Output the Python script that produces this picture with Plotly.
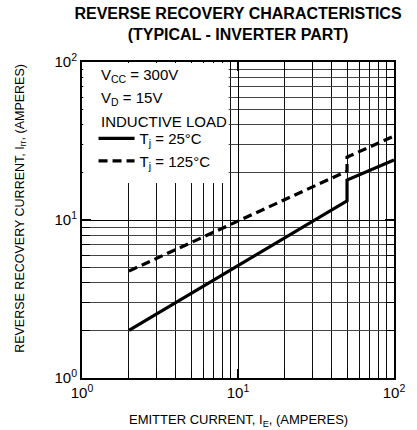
import plotly.graph_objects as go

# Data
x_25 = [2, 50, 50, 100]
y_25 = [2.0, 13.2, 17.9, 24.0]
x_125 = [2, 50, 50, 100]
y_125 = [4.75, 20.4, 25.0, 34.0]

tick_vals = [1, 10, 100]
tick_text = ["10<sup>0</sup>", "10<sup>1</sup>", "10<sup>2</sup>"]
minor_vals = [2, 3, 4, 5, 6, 7, 8, 9, 20, 30, 40, 50, 60, 70, 80, 90]

info_lines = ["V<sub>CC</sub> = 300V", "V<sub>D</sub> = 15V", "INDUCTIVE LOAD"]
info_y = [0.956, 0.886, 0.813]

FONT = "Liberation Sans, Arial, sans-serif"
W, H = 417, 430
L, R, T, B = 82, 14, 62, 52

fig = go.Figure()
fig.add_trace(go.Scatter(x=x_25, y=y_25, mode="lines", name="T<sub>j</sub> = 25°C",
                         line=dict(color="black", width=3.2)))
fig.add_trace(go.Scatter(x=x_125, y=y_125, mode="lines", name="T<sub>j</sub> = 125°C",
                         line=dict(color="black", width=3.2, dash="9px,5px")))

axis_common = dict(
    type="log", showline=True, linecolor="black", linewidth=2, mirror="allticks",
    ticks="inside", ticklen=9, tickwidth=2, tickcolor="black",
    tickmode="array", tickvals=tick_vals, ticktext=tick_text,
    showgrid=True, gridcolor="black", gridwidth=1.3, zeroline=False,
    tickfont=dict(family=FONT, size=15, color="black"),
)

fig.update_xaxes(**axis_common, range=[0, 2],
                 minor=dict(tickvals=minor_vals, showgrid=True, gridcolor="#111111", gridwidth=1,
                            ticks="inside", ticklen=8, tickcolor="black", tickwidth=1))
fig.update_yaxes(**axis_common, range=[0, 2],
                 minor=dict(tickvals=minor_vals, showgrid=True, gridcolor="#444444", gridwidth=1.2,
                            ticks="inside", ticklen=8, tickcolor="black", tickwidth=1))

# white box behind the legend text
fig.add_shape(type="rect", xref="paper", yref="paper", x0=0.004, x1=0.47, y0=0.617, y1=0.997,
              fillcolor="white", line=dict(width=0), layer="above")

for txt, yy in zip(info_lines, info_y):
    fig.add_annotation(text=txt, xref="paper", yref="paper", x=0.053, y=yy, xanchor="left",
                       yanchor="middle", showarrow=False, font=dict(family=FONT, size=15, color="black"))

fig.add_annotation(text="EMITTER CURRENT, I<sub>E</sub>, (AMPERES)", xref="paper", yref="paper",
                   x=0.5, y=-0.133, xanchor="center", yanchor="middle", showarrow=False,
                   font=dict(family=FONT, size=13, color="black"))
fig.add_annotation(text="REVERSE RECOVERY CURRENT, I<sub>rr</sub>, (AMPERES)", xref="paper", yref="paper",
                   x=-0.196, y=0.538, xanchor="center", yanchor="middle", textangle=-90, showarrow=False,
                   font=dict(family=FONT, size=12.5, color="black"))

fig.update_layout(
    width=W, height=H, margin=dict(l=L, r=R, t=T, b=B),
    paper_bgcolor="white", plot_bgcolor="white",
    title=dict(text="<b>REVERSE RECOVERY CHARACTERISTICS<br>(TYPICAL - INVERTER PART)</b>",
               x=0.5, xref="paper", xanchor="center", y=1 - 19 / H, yref="container", yanchor="top",
               font=dict(family=FONT, size=16, color="black")),
    showlegend=True,
    legend=dict(x=0.037, y=0.81, xanchor="left", yanchor="top", bgcolor="rgba(0,0,0,0)",
                borderwidth=0, font=dict(family=FONT, size=15, color="black"),
                tracegroupgap=0, itemwidth=36),
)

fig.write_html("out.html", config={"displayModeBar": False},
               post_script="document.body.style.margin='0';document.body.style.padding='0';")
